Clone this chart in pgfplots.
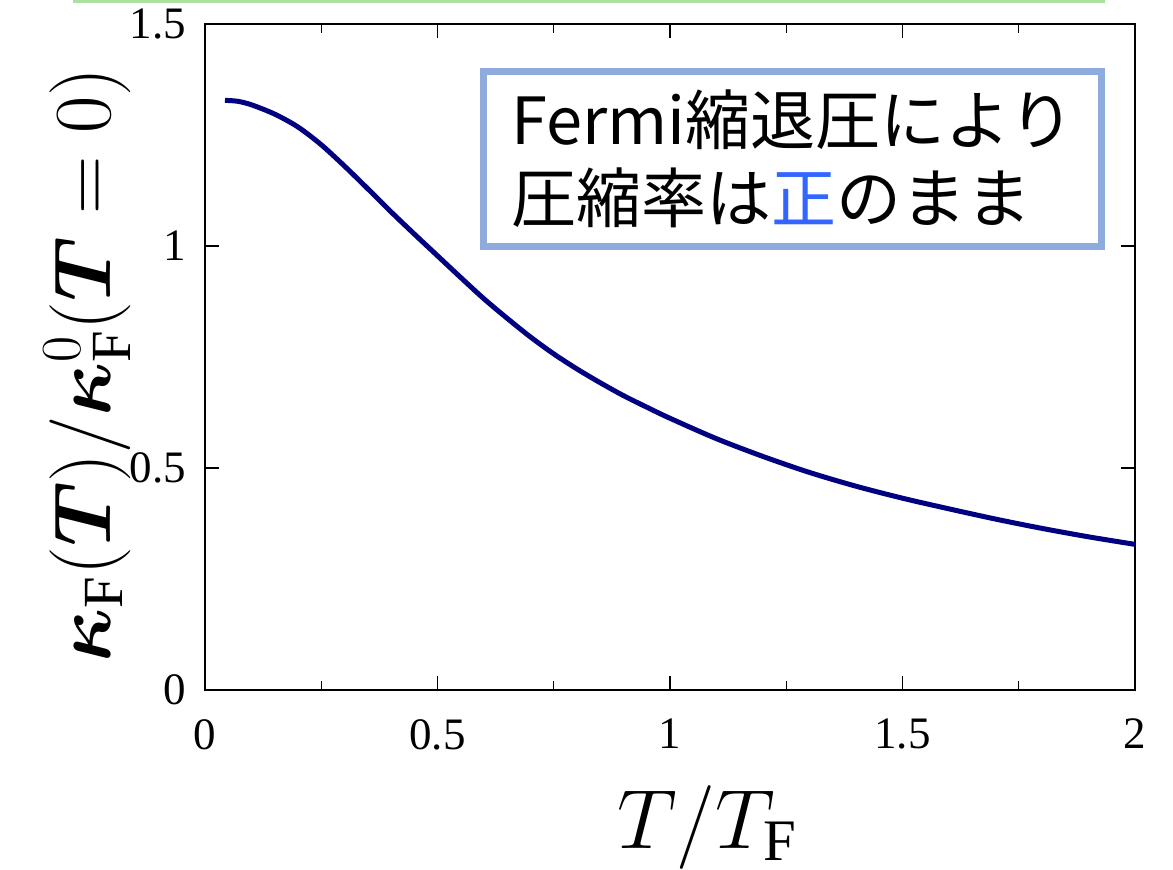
\RequirePackage{fix-cm}
\documentclass[border=0pt]{standalone}
\usepackage{amsmath}
\usepackage{fontspec}
\usepackage{pgfplots}
\pgfplotsset{compat=1.18}
\setmainfont{Liberation Serif}
\newfontfamily\cjk{Noto Sans CJK JP}
\definecolor{curveblue}{RGB}{0,0,128}
\definecolor{boxblue}{RGB}{143,170,220}
\definecolor{posblue}{RGB}{51,102,255}
\definecolor{slidegreen}{RGB}{170,224,160}

% compressibility ratio of the ideal Fermi gas vs reduced temperature
\pgfplotstableread{
t      kappa
0.043  1.328
0.070  1.326
0.100  1.318
0.150  1.297
0.200  1.268
0.250  1.228
0.300  1.180
0.350  1.129
0.400  1.077
0.450  1.027
0.500  0.978
0.550  0.929
0.600  0.881
0.650  0.837
0.700  0.795
0.750  0.757
0.800  0.723
0.850  0.692
0.900  0.663
0.950  0.637
1.000  0.612
1.100  0.566
1.200  0.526
1.300  0.490
1.400  0.459
1.500  0.432
1.600  0.408
1.700  0.385
1.800  0.364
1.900  0.345
2.000  0.328
}\kappatable

\begin{document}
\begin{tikzpicture}
\begin{axis}[
  scale only axis,
  width=465pt, height=333pt,
  xmin=0, xmax=2, ymin=0, ymax=1.5,
  xtick={0,0.5,1,1.5,2},
  ytick={0,0.5,1,1.5},
  minor x tick num=1,
  tick align=inside,
  major tick length=7pt,
  minor tick length=4.5pt,
  axis line style={line width=1pt},
  major tick style={black, line width=0.6pt},
  minor tick style={black, line width=0.6pt},
  /pgf/number format/assume math mode=true,
  tick label style={font=\fontsize{22.5}{26}\selectfont},
  xticklabel style={yshift=-11pt},
  yticklabel style={xshift=-6pt},
  xlabel={$T/T_{\mathrm{F}}$},
  xlabel style={font=\fontsize{42}{48}\selectfont,
    at={(axis description cs:0.54,0)}, anchor=base, yshift=-79pt},
  ylabel={$\boldsymbol{\kappa}_{\mathrm{F}}(\boldsymbol{T})/\boldsymbol{\kappa}^0_{\mathrm{F}}(\boldsymbol{T}=0)$},
  ylabel style={font=\fontsize{40.5}{46}\selectfont,
    at={(axis description cs:-0.102,0.488)}, anchor=base},
]
\addplot[curveblue, line width=2.5pt, smooth] table[x=t, y=kappa] {\kappatable};
\node[draw=boxblue, line width=3.5pt, fill=white,
      minimum width=309pt, minimum height=87.5pt, inner sep=0pt,
      align=left, font=\cjk\fontsize{32.5}{39}\selectfont]
  at (rel axis cs:0.632,0.797)
  {Fermi縮退圧により\\圧縮率は\textcolor{posblue}{正}のまま};
\end{axis}
\draw[slidegreen, line width=1.5pt] (-66pt,344.25pt) -- (450pt,344.25pt);
\pgfresetboundingbox
\useasboundingbox (-102.5pt,-89.5pt) rectangle (484pt,345pt);
\end{tikzpicture}
\end{document}
